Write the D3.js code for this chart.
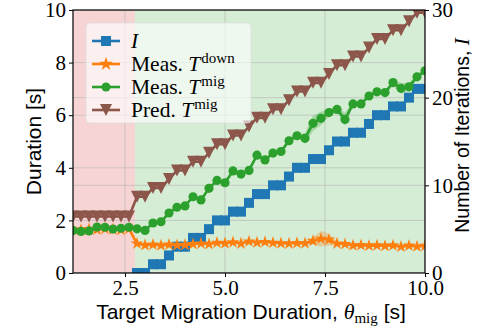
<!DOCTYPE html>
<html>
<head>
<meta charset="utf-8">
<script src="https://cdnjs.cloudflare.com/ajax/libs/d3/7.8.5/d3.min.js"></script>
<style>
  body { margin: 0; background: #fff; }
  svg { display: block; }
</style>
</head>
<body>
<script>
// data (theta step 0.2 s)
const theta = [1.2, 1.4, 1.6, 1.8, 2.0, 2.2, 2.4, 2.6, 2.8, 3.0, 3.2, 3.4, 3.6, 3.8, 4.0,
  4.2, 4.4, 4.6, 4.8, 5.0, 5.2, 5.4, 5.6, 5.8, 6.0, 6.2, 6.4, 6.6, 6.8, 7.0,
  7.2, 7.4, 7.6, 7.8, 8.0, 8.2, 8.4, 8.6, 8.8, 9.0, 9.2, 9.4, 9.6, 9.8, 10.0];

const iters = [null, null, null, null, null, null, null, null, 0, 0, 1, 1, 2, 3, 3,
  4, 4, 5, 6, 6, 7, 7, 8, 9, 9, 10, 10, 11, 12, 12,
  13, 13, 14, 15, 15, 16, 16, 17, 18, 18, 19, 19, 20, 21, 21];

const tDown = [1.66, 1.63, 1.67, 1.65, 1.68, 1.66, 1.64, 1.68, 1.12, 1.06, 1.08, 1.05, 1.08, 1.06, 1.07,
  1.10, 1.12, 1.10, 1.15, 1.13, 1.17, 1.12, 1.20, 1.16, 1.18, 1.15, 1.13, 1.12, 1.14, 1.13,
  1.22, 1.30, 1.27, 1.12, 1.10, 1.05, 1.06, 1.04, 1.05, 1.03, 1.05, 1.00, 1.04, 1.01, 1.03];
const tDownStd = [0.03, 0.03, 0.03, 0.03, 0.03, 0.03, 0.03, 0.03, 0.03, 0.03, 0.03, 0.03, 0.03, 0.03, 0.03,
  0.03, 0.03, 0.03, 0.03, 0.03, 0.03, 0.03, 0.03, 0.03, 0.03, 0.03, 0.03, 0.03, 0.04, 0.06,
  0.15, 0.30, 0.22, 0.08, 0.03, 0.03, 0.03, 0.03, 0.03, 0.03, 0.03, 0.03, 0.03, 0.03, 0.03];

const tMig = [1.62, 1.58, 1.60, 1.75, 1.74, 1.67, 1.70, 1.74, 1.68, 1.62, 1.90, 1.95, 2.28, 2.50, 2.55,
  2.90, 2.78, 3.22, 3.52, 3.43, 3.88, 3.76, 3.90, 4.48, 4.30, 4.56, 4.62, 5.03, 5.22, 5.12,
  5.69, 5.88, 6.10, 6.22, 5.84, 6.43, 6.43, 6.73, 6.89, 6.86, 7.24, 7.02, 7.08, 7.46, 7.69];
const tMigStd = [0.04, 0.04, 0.04, 0.04, 0.04, 0.04, 0.04, 0.04, 0.04, 0.04, 0.04, 0.04, 0.08, 0.08, 0.04,
  0.04, 0.04, 0.04, 0.04, 0.04, 0.04, 0.04, 0.04, 0.04, 0.04, 0.04, 0.08, 0.10, 0.06, 0.20,
  0.30, 0.25, 0.15, 0.10, 0.25, 0.12, 0.05, 0.05, 0.05, 0.05, 0.12, 0.20, 0.15, 0.10, 0.05];

const predMig = [2.15, 2.15, 2.15, 2.15, 2.15, 2.15, 2.15, 2.15, 2.90, 2.90, 3.23, 3.23, 3.57, 3.90, 3.90,
  4.23, 4.23, 4.57, 4.90, 4.90, 5.23, 5.23, 5.57, 5.90, 5.90, 6.23, 6.23, 6.57, 6.90, 6.90,
  7.23, 7.23, 7.57, 7.90, 7.90, 8.23, 8.23, 8.57, 8.90, 8.90, 9.23, 9.23, 9.57, 9.90, 9.90];

const infeasibleEnd = 2.75;
const xTicks = [2.5, 5.0, 7.5, 10.0];
const yTicks = [0, 2, 4, 6, 8, 10];
const y2Ticks = [0, 10, 20, 30];

const W = 478, H = 333;
const L = 73, R = 425, T = 10, B = 273;

const x = d3.scaleLinear().domain([1.2, 10]).range([L, R]);
const y = d3.scaleLinear().domain([0, 10]).range([B, T]);
const y2 = d3.scaleLinear().domain([0, 30]).range([B, T]);

const svg = d3.select("body").append("svg")
  .attr("width", W).attr("height", H);

svg.append("defs").append("clipPath").attr("id", "clip")
  .append("rect").attr("x", L).attr("y", T).attr("width", R - L).attr("height", B - T);

const plot = svg.append("g").attr("clip-path", "url(#clip)");

// regions
plot.append("rect").attr("x", x(1.2)).attr("y", T)
  .attr("width", x(infeasibleEnd) - x(1.2)).attr("height", B - T)
  .attr("fill", "#d62728").attr("opacity", 0.2);
plot.append("rect").attr("x", x(infeasibleEnd)).attr("y", T)
  .attr("width", x(10) - x(infeasibleEnd)).attr("height", B - T)
  .attr("fill", "#2ca02c").attr("opacity", 0.2);

// grid
const grid = plot.append("g").attr("stroke", "#b0b0b0").attr("stroke-opacity", 0.55).attr("stroke-width", 1);
xTicks.forEach(t => grid.append("line").attr("x1", x(t)).attr("x2", x(t)).attr("y1", T).attr("y2", B));
yTicks.forEach(t => grid.append("line").attr("x1", L).attr("x2", R).attr("y1", y(t)).attr("y2", y(t)));
y2Ticks.forEach(t => grid.append("line").attr("x1", L).attr("x2", R).attr("y1", y2(t)).attr("y2", y2(t)));

const pts = (vals, sc) => theta.map((t, i) => ({ t: t, v: vals[i] })).filter(d => d.v !== null)
  .map(d => [x(d.t), sc(d.v)]);

const line = d3.line();

function band(vals, std, color) {
  const area = d3.area()
    .x((d, i) => x(theta[i]))
    .y0((d, i) => y(vals[i] - std[i]))
    .y1((d, i) => y(vals[i] + std[i]));
  plot.append("path").attr("d", area(vals)).attr("fill", color).attr("opacity", 0.28);
}

function series(p, color, marker) {
  plot.append("path").attr("d", line(p)).attr("fill", "none")
    .attr("stroke", color).attr("stroke-width", 2.6).attr("stroke-linejoin", "round");
  const g = plot.append("g").attr("fill", color);
  p.forEach(q => g.append("path").attr("d", marker).attr("transform", `translate(${q[0]},${q[1]})`));
}

const sqMarker = d3.symbol(d3.symbolSquare, 100)();
const starMarker = d3.symbol(d3.symbolStar, 50)();
const circMarker = d3.symbol(d3.symbolCircle, 66)();
const triMarker = "M0,6L-6,-6L6,-6Z";

series(pts(iters, y2), "#1f77b4", sqMarker);
band(tDown, tDownStd, "#ff7f0e");
series(pts(tDown, y), "#ff7f0e", starMarker);
band(tMig, tMigStd, "#2ca02c");
series(pts(tMig, y), "#2ca02c", circMarker);
series(pts(predMig, y), "#8c564b", triMarker);

// axes
const serif = "'Liberation Serif', 'DejaVu Serif', serif";
const sans = "'Liberation Sans', 'DejaVu Sans', sans-serif";

function styleAxis(g) {
  g.selectAll(".domain").remove();
  g.selectAll(".tick line").attr("stroke", "#000").attr("stroke-width", 1);
  g.selectAll(".tick text").attr("font-family", serif).attr("font-size", 21).attr("fill", "#000");
}

svg.append("g").attr("transform", `translate(0,${B})`)
  .call(d3.axisBottom(x).tickValues(xTicks).tickFormat(d3.format(".1f")).tickSize(4).tickPadding(3))
  .call(styleAxis);
svg.append("g").attr("transform", `translate(${L},0)`)
  .call(d3.axisLeft(y).tickValues(yTicks).tickFormat(d3.format("d")).tickSize(4).tickPadding(3))
  .call(styleAxis);
svg.append("g").attr("transform", `translate(${R},0)`)
  .call(d3.axisRight(y2).tickValues(y2Ticks).tickFormat(d3.format("d")).tickSize(4).tickPadding(3))
  .call(styleAxis);

svg.append("rect").attr("x", L).attr("y", T).attr("width", R - L).attr("height", B - T)
  .attr("fill", "none").attr("stroke", "#000").attr("stroke-width", 1.2);

// labels
const xl = svg.append("text").attr("x", (L + R) / 2 + 2).attr("y", 319)
  .attr("text-anchor", "middle").attr("font-family", sans).attr("font-size", 21);
xl.append("tspan").text("Target Migration Duration, ");
xl.append("tspan").attr("font-family", serif).attr("font-style", "italic").attr("font-size", 22).text("θ");
xl.append("tspan").attr("font-family", serif).attr("font-size", 15).attr("dy", 4).text("mig");
xl.append("tspan").attr("dy", -4).text(" [s]");

svg.append("text").attr("transform", `translate(41,${(T + B) / 2}) rotate(-90)`)
  .attr("text-anchor", "middle").attr("font-family", sans).attr("font-size", 21)
  .text("Duration [s]");

const yl2 = svg.append("text").attr("transform", `translate(469,${(T + B) / 2 - 6}) rotate(-90)`)
  .attr("text-anchor", "middle").attr("font-family", sans).attr("font-size", 19.5);
yl2.append("tspan").text("Number of Iterations, ");
yl2.append("tspan").attr("font-family", serif).attr("font-style", "italic").attr("font-size", 21).text("I");

// legend
const leg = svg.append("g");
leg.append("rect").attr("x", 86).attr("y", 23).attr("width", 165).attr("height", 100)
  .attr("rx", 4).attr("fill", "#fff").attr("fill-opacity", 0.62)
  .attr("stroke", "#ddd").attr("stroke-opacity", 0.8);

const legItems = [
  { color: "#1f77b4", marker: sqMarker, base: "", sym: "I", sup: "" },
  { color: "#ff7f0e", marker: d3.symbol(d3.symbolStar, 60)(), base: "Meas. ", sym: "T", sup: "down" },
  { color: "#2ca02c", marker: circMarker, base: "Meas. ", sym: "T", sup: "mig" },
  { color: "#8c564b", marker: triMarker, base: "Pred. ", sym: "T", sup: "mig" }
];

legItems.forEach((d, i) => {
  const cy = 41 + i * 23;
  leg.append("line").attr("x1", 92).attr("x2", 120).attr("y1", cy).attr("y2", cy)
    .attr("stroke", d.color).attr("stroke-width", 2.6);
  leg.append("path").attr("d", d.marker).attr("fill", d.color).attr("transform", `translate(106,${cy})`);
  const tx = leg.append("text").attr("x", 131).attr("y", cy + 7)
    .attr("font-family", serif).attr("font-size", 21.5).attr("fill", "#000");
  if (d.base) tx.append("tspan").text(d.base);
  tx.append("tspan").attr("font-style", "italic").text(d.sym);
  if (d.sup) tx.append("tspan").attr("font-size", 15).attr("dy", -8).attr("dx", 1).text(d.sup);
});
</script>
</body>
</html>
